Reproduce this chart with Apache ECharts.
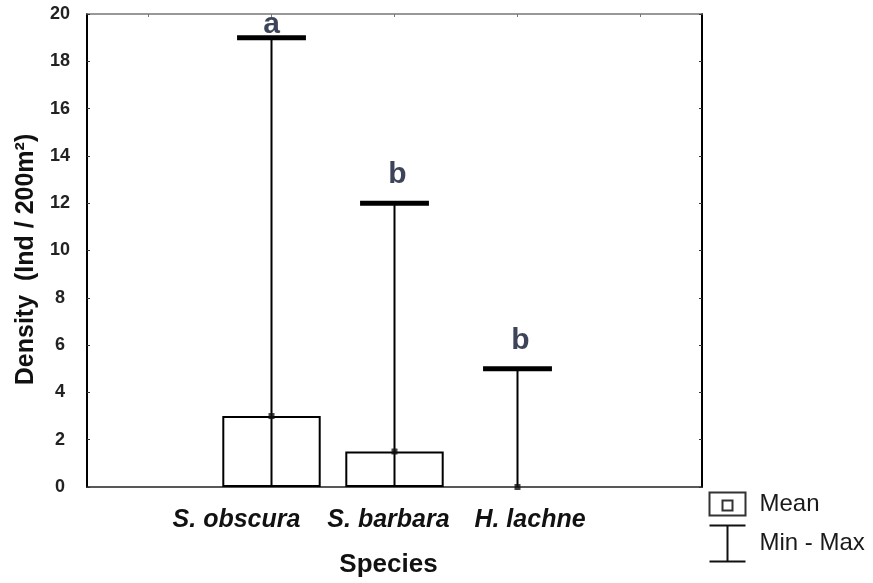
<!DOCTYPE html>
<html><head><meta charset="utf-8">
<script src="https://cdn.jsdelivr.net/npm/echarts@6/dist/echarts.min.js"></script>
<style>html,body{margin:0;padding:0;background:#fff}#c{width:873px;height:583px}</style>
</head><body><div id="c"></div>
<script>
// ---- data ----
const categories = ['S. obscura', 'S. barbara', 'H. lachne'];
const meanValues = [3, 1.5, 0];
const minValues = [0, 0, 0];
const maxValues = [19, 12, 5];
const groupLetters = ['a', 'b', 'b'];
const yMin = 0, yMax = 20, yStep = 2;

// ---- build ----
const FONT = 'Liberation Sans, Arial, sans-serif';
const axisCats = ['', ...categories, ''];
const pad = arr => [null, ...arr, null];
const labelShift = { 'S. obscura': [0, 70, 0, 0], 'S. barbara': [0, 12, 0, 0], 'H. lachne': [0, 0, 0, 25] };
const xLabStyle = p => ({ fontFamily: FONT, fontSize: 25, fontWeight: 'bold', fontStyle: 'italic', color: '#111', padding: p });

const chart = echarts.init(document.getElementById('c'), null, { renderer: 'canvas' });
chart.setOption({
  backgroundColor: '#fff',
  animation: false,
  grid: { left: 87, right: 171, top: 14, bottom: 95 },
  legend: {
    orient: 'vertical', left: 692, top: 485, padding: 0, itemGap: 0,
    itemWidth: 60, itemHeight: 36,
    textStyle: { fontFamily: FONT, fontSize: 24, color: '#1a1a1a' },
    data: [
      { name: 'Mean', icon: 'path://M0,0 M60,36 M15,6.5 L51,6.5 L51,29.5 L15,29.5 Z M28,14.5 L38,14.5 L38,24.5 L28,24.5 Z',
        itemStyle: { color: '#fff', borderColor: '#333', borderWidth: 2 } },
      { name: 'Min - Max', icon: 'path://M0,0 M60,36 M15,0 L51,0 M33,0 L33,36 M15,36 L51,36',
        itemStyle: { color: 'none', borderColor: '#111', borderWidth: 2 } }
    ]
  },
  xAxis: [
    {
      type: 'category', data: axisCats, position: 'bottom',
      axisLine: { onZero: false, lineStyle: { color: '#222', width: 1.5 } },
      axisTick: { alignWithLabel: true, inside: false, length: 4, lineStyle: { color: '#222' } },
      axisLabel: {
        margin: 21, interval: 0,
        formatter: v => v ? '{' + (v === 'S. obscura' ? 'a' : v === 'S. barbara' ? 'b' : 'c') + '|' + v + '}' : '',
        rich: {
          a: xLabStyle(labelShift['S. obscura']),
          b: xLabStyle(labelShift['S. barbara']),
          c: xLabStyle(labelShift['H. lachne'])
        }
      },
      name: 'Species', nameLocation: 'middle', nameGap: 65,
      nameTextStyle: { fontFamily: FONT, fontSize: 26, fontWeight: 'bold', color: '#111', padding: [0, 12, 0, 0] },
      splitLine: { show: false }
    },
    {
      type: 'category', data: axisCats, position: 'top',
      axisLine: { show: true, onZero: false, lineStyle: { color: '#777', width: 1.5 } },
      axisTick: { show: true, alignWithLabel: true, inside: true, length: 3, lineStyle: { color: '#777' } },
      axisLabel: { show: false }, splitLine: { show: false }
    }
  ],
  yAxis: [
    {
      type: 'value', min: yMin, max: yMax, interval: yStep, position: 'left',
      axisLine: { show: true, onZero: false, lineStyle: { color: '#000', width: 2 } },
      axisTick: { show: true, inside: true, length: 3, lineStyle: { color: '#333' } },
      axisLabel: { align: 'center', margin: 27, fontFamily: FONT, fontSize: 18, fontWeight: 'bold', color: '#222' },
      splitLine: { show: false },
      name: 'Density  (Ind / 200m\u00B2)', nameLocation: 'middle', nameGap: 46, nameRotate: 90,
      nameTextStyle: { fontFamily: FONT, fontSize: 25, fontWeight: 'bold', color: '#111', padding: [0, 18, 0, 0] }
    },
    {
      type: 'value', min: yMin, max: yMax, interval: yStep, position: 'right',
      axisLine: { show: true, onZero: false, lineStyle: { color: '#000', width: 2 } },
      axisTick: { show: true, inside: true, length: 3, lineStyle: { color: '#333' } },
      axisLabel: { show: false }, splitLine: { show: false }
    }
  ],
  series: [
    {
      name: 'Mean', type: 'bar', barWidth: '80%', z: 2,
      data: pad(meanValues.map(v => ({ value: v, itemStyle: v === 0 ? { borderWidth: 0 } : {} }))),
      itemStyle: { color: '#fff', borderColor: '#000', borderWidth: 2 }
    },
    {
      name: 'Min - Max', type: 'custom', z: 3,
      data: categories.map((c, i) => [i + 1, minValues[i], maxValues[i]]),
      encode: { x: 0, y: [1, 2] },
      renderItem: (params, api) => {
        const x = api.value(0);
        const pLo = api.coord([x, api.value(1)]);
        const pHi = api.coord([x, api.value(2)]);
        const half = api.size([1, 0])[0] * 0.28;
        return {
          type: 'group', children: [
            { type: 'line', shape: { x1: pLo[0], y1: pLo[1], x2: pHi[0], y2: pHi[1] }, style: { stroke: '#000', lineWidth: 2 } },
            { type: 'line', shape: { x1: pHi[0] - half, y1: pHi[1], x2: pHi[0] + half, y2: pHi[1] }, style: { stroke: '#000', lineWidth: 5 } }
          ]
        };
      }
    },
    {
      name: 'meanMark', type: 'scatter', data: pad(meanValues), symbol: 'rect', symbolSize: 6,
      itemStyle: { color: '#111' }, z: 4, silent: true
    },
    {
      name: 'letters', type: 'scatter', symbolSize: 0, z: 5, silent: true,
      data: pad(maxValues.map((v, i) => ({
        value: v,
        label: { show: true, position: 'top', distance: 13, offset: i === 0 ? [0, 15] : [3, 0], formatter: groupLetters[i] }
      }))),
      label: { fontFamily: FONT, fontSize: 30, fontWeight: 'bold', color: '#0d1530' }
    }
  ]
});
</script></body></html>
